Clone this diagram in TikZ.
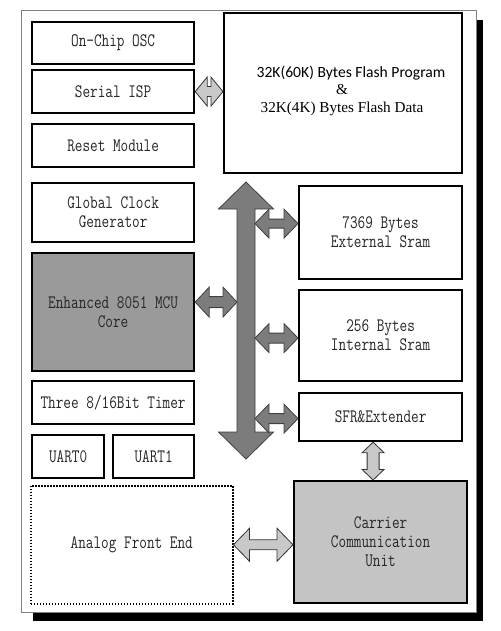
\documentclass[tikz,border=0pt]{standalone}
\usepackage{fontspec}
\usepackage{tikz}
\usetikzlibrary{calc}
\newfontfamily\blockfont[FakeStretch=0.78]{Latin Modern Mono}
\newfontfamily\flashsans{Carlito}
\newfontfamily\flashserif{Liberation Serif}

% block double arrows: from, to, shaft half, head half, head length, style
\newcommand{\hdarrow}[6]{%
\draw[#6] let \p1=#1, \p2=#2 in (\x1,\y1) -- (\x1+#5,\y1+#4) -- (\x1+#5,\y1+#3) -- (\x2-#5,\y1+#3) -- (\x2-#5,\y1+#4) -- (\x2,\y1) -- (\x2-#5,\y1-#4) -- (\x2-#5,\y1-#3) -- (\x1+#5,\y1-#3) -- (\x1+#5,\y1-#4) -- cycle ;}
\newcommand{\vdarrow}[6]{%
\draw[#6] let \p1=#1, \p2=#2 in (\x1,\y1) -- (\x1+#4,\y1+#5) -- (\x1+#3,\y1+#5) -- (\x1+#3,\y2-#5) -- (\x1+#4,\y2-#5) -- (\x1,\y2) -- (\x1-#4,\y2-#5) -- (\x1-#3,\y2-#5) -- (\x1-#3,\y1+#5) -- (\x1-#4,\y1+#5) -- cycle ;}

\begin{document}
\begin{tikzpicture}[x=1pt,y=1pt,yscale=-1,xscale=1,
  blk/.style={draw=black, line width=2.2pt, anchor=north west, inner sep=0pt, align=center, text=black!85,
    font=\blockfont\fontsize{19}{19}\selectfont},
  darkarrow/.style={draw=black!75, line width=0.8pt, fill={rgb,255:red,124; green,124; blue,124}},
  litearrow/.style={draw=black!80, line width=0.8pt, fill={rgb,255:red,200; green,200; blue,200}}]
\useasboundingbox (0,0) rectangle (500,631);

%Shape: Shadow and Frame
\fill [black] (33,20) rectangle (483,621) ;
\draw [draw=black!50, fill=white, line width=0.8pt] (21,10) rectangle (476,612) ;

% Left column
\node [blk, minimum width=162pt, minimum height=42pt] (osc) at (31,21) {On-Chip OSC};
\node [blk, minimum width=162pt, minimum height=43pt] (isp) at (31,69) {Serial ISP};
\node [blk, minimum width=162pt, minimum height=43pt] (reset) at (31,123) {Reset Module};
\node [blk, minimum width=162pt, minimum height=59pt] (clock) at (31,182) {Global Clock\\Generator};
\node [blk, minimum width=162pt, minimum height=118pt, fill={rgb,255:red,154; green,154; blue,154}] (mcu) at (31,252) {Enhanced 8051 MCU\\Core};
\node [blk, minimum width=162pt, minimum height=43pt] (timer) at (31,380) {Three 8/16Bit Timer};
\node [blk, minimum width=72pt, minimum height=43pt] (uart0) at (31,434) {UART0};
\node [blk, minimum width=81pt, minimum height=43pt] (uart1) at (112,434) {UART1};
\node [blk, minimum width=202pt, minimum height=118pt, line width=1.5pt, dash pattern=on 1.5pt off 1.5pt] (afe) at (30,485) {Analog Front End};

% Right column
\node [blk, minimum width=238pt, minimum height=160pt] (flash) at (223,12) {};
\node [text=black, font=\flashsans\fontsize{15.6}{16}\selectfont] (flashprog) at (351,73) {32K(60K) Bytes Flash Program};
\node [text=black, font=\flashserif\fontsize{15.2}{16}\selectfont] (flashamp) at (342,90) {\&};
\node [text=black, font=\flashserif\fontsize{15.2}{16}\selectfont] (flashdata) at (342,109) {32K(4K) Bytes Flash Data};
\node [blk, minimum width=163pt, minimum height=93pt] (extsram) at (298,185) {7369 Bytes\\External Sram};
\node [blk, minimum width=163pt, minimum height=91pt] (intsram) at (298,289) {256 Bytes\\Internal Sram};
\node [blk, minimum width=163pt, minimum height=48pt] (sfr) at (298,392) {SFR\&Extender};
\node [blk, minimum width=173pt, minimum height=122pt, fill={rgb,255:red,196; green,196; blue,196}] (ccu) at (293,480) {Carrier\\Communication\\Unit};

% Bus
\coordinate (bustop) at (246,182) ;
\coordinate (busbot) at (246,459) ;
\coordinate (busl) at (237,300) ;
\coordinate (busr) at (255,300) ;
\vdarrow{(bustop)}{(busbot)}{9pt}{27.5pt}{27pt}{darkarrow}

% Arrow levels
\coordinate (mcuarr) at ([yshift=-10pt]mcu.east) ;
\coordinate (extarr) at ([yshift=-9pt]extsram.west) ;
\coordinate (intarr) at ([yshift=2.5pt]intsram.west) ;
\coordinate (sfrarr) at ([yshift=1.5pt]sfr.west) ;
\coordinate (sfrdown) at ([xshift=-7.5pt]sfr.south) ;

\hdarrow{(isp.east)}{(flash.west |- isp.east)}{5pt}{14.5pt}{12pt}{litearrow}
\hdarrow{(mcuarr)}{(busl |- mcuarr)}{5.5pt}{15pt}{14pt}{darkarrow}
\hdarrow{(busr |- extarr)}{(extarr)}{4.5pt}{14.5pt}{14pt}{darkarrow}
\hdarrow{(busr |- intarr)}{(intarr)}{5pt}{14.5pt}{14pt}{darkarrow}
\hdarrow{(busr |- sfrarr)}{(sfrarr)}{5pt}{14.5pt}{14pt}{darkarrow}
\vdarrow{(sfrdown)}{(sfrdown |- ccu.north)}{6pt}{11pt}{10.5pt}{litearrow}
\hdarrow{(afe.east)}{(ccu.west |- afe.east)}{5pt}{16.5pt}{16pt}{litearrow}

\end{tikzpicture}
\end{document}
